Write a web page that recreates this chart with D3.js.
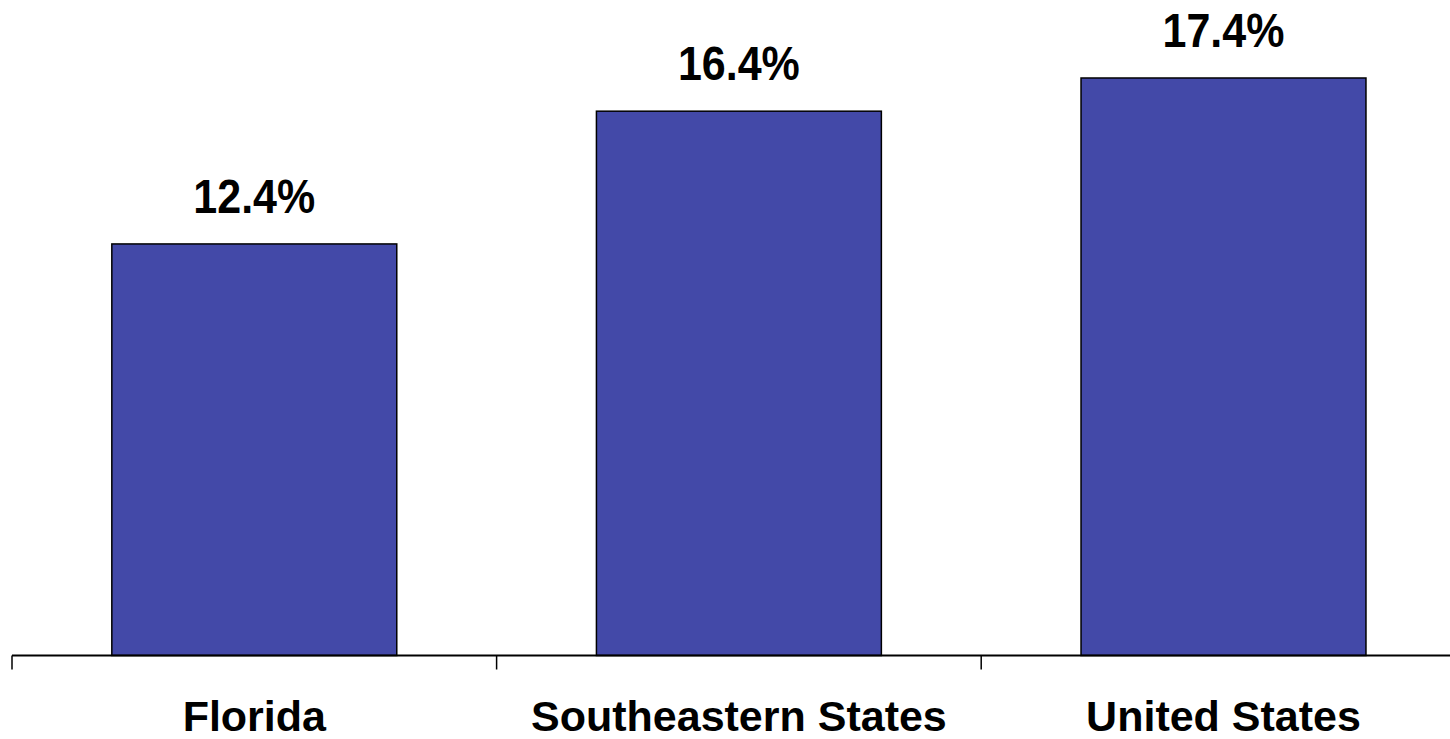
<!DOCTYPE html>
<html><head><meta charset="utf-8">
<script src="https://cdn.jsdelivr.net/npm/d3@7"></script>
<style>html,body{margin:0;padding:0;background:#fff;overflow:hidden}</style>
</head><body>
<svg id="c" width="1450" height="739"></svg>
<script>
const categories = ["Florida", "Southeastern States", "United States"];
const values = [12.4, 16.4, 17.4];
const valueLabels = ["12.4%", "16.4%", "17.4%"];

const svg = d3.select("#c");
const x0 = 12, step = 484.6, baseY = 655.5;
const xOuter = d3.scaleBand().domain(categories).range([x0, x0 + step * categories.length]).padding(0);
const x = d3.scaleBand().domain(categories).range([x0, x0 + step * categories.length])
  .paddingInner(0.412).paddingOuter(0.206);
const y = d3.scaleLinear().domain([0, 20]).range([baseY, baseY - 20 * 33.19]);

svg.selectAll("rect.bar").data(values).join("rect")
  .attr("class", "bar")
  .attr("x", (d, i) => x(categories[i]))
  .attr("width", x.bandwidth())
  .attr("y", d => y(d))
  .attr("height", d => y(0) - y(d))
  .attr("fill", "#4349A8")
  .attr("stroke", "#000")
  .attr("stroke-width", 1.5);

svg.selectAll("text.val").data(values).join("text")
  .attr("class", "val")
  .attr("transform", (d, i) => `translate(${x(categories[i]) + x.bandwidth() / 2},${y(d) - 31}) scale(1,1.12)`)
  .attr("text-anchor", "middle")
  .attr("font-family", "Liberation Sans, Arial, sans-serif")
  .attr("font-weight", "bold")
  .attr("font-size", 43)
  .text((d, i) => valueLabels[i]);

// axis line
svg.append("line")
  .attr("x1", x0).attr("x2", 1450)
  .attr("y1", baseY).attr("y2", baseY)
  .attr("stroke", "#000").attr("stroke-width", 2);

// ticks at category boundaries
const tickPos = categories.map(c => xOuter(c)).concat([xOuter.range()[1]]);
svg.selectAll("line.tick").data(tickPos).join("line")
  .attr("class", "tick")
  .attr("x1", d => d).attr("x2", d => d)
  .attr("y1", baseY).attr("y2", baseY + 14)
  .attr("stroke", "#000").attr("stroke-width", 1.5);

svg.selectAll("text.cat").data(categories).join("text")
  .attr("class", "cat")
  .attr("x", d => xOuter(d) + xOuter.bandwidth() / 2)
  .attr("y", 731)
  .attr("text-anchor", "middle")
  .attr("font-family", "Liberation Sans, Arial, sans-serif")
  .attr("font-weight", "bold")
  .attr("font-size", 43)
  .text(d => d);
</script>
</body></html>
